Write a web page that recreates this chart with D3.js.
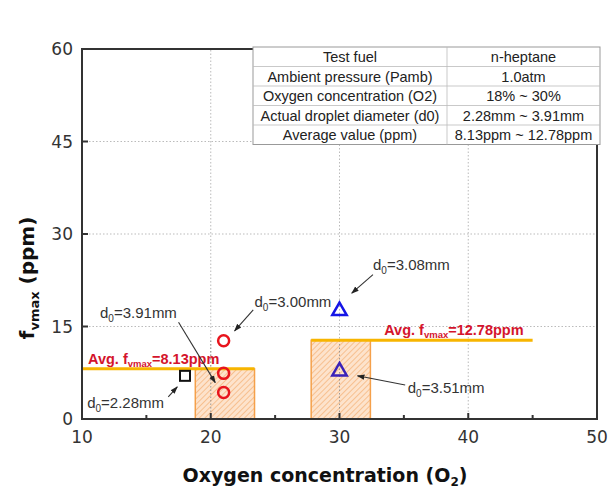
<!DOCTYPE html>
<html>
<head>
<meta charset="utf-8">
<script src="https://cdn.jsdelivr.net/npm/d3@7"></script>
<style>
  body { margin: 0; background: #fff; }
  svg { font-family: "DejaVu Sans", sans-serif; }
</style>
</head>
<body>
<script>
// data
var xTicks = [10, 20, 30, 40, 50];
var xMinorTicks = [15, 25, 35, 45];
var yTicks = [0, 15, 30, 45, 60];

var circleX = [21, 21, 21],
    circleY = [12.7, 7.4, 4.3];
var squareX = [18],
    squareY = [7.0];
var triangleX = [30, 30],
    triangleY = [17.7, 7.9];

// average bands (hatched) and average lines
var bandStart = [18.8, 27.8],
    bandEnd = [23.4, 32.4],
    avgValue = [8.13, 12.78];
var avgLineStart = [10, 27.8],
    avgLineEnd = [23.4, 45];
var avgLabels = ["8.13ppm", "12.78ppm"];

// annotations: label, text anchor (data units), arrow from -> to (data units)
var annoLabels = ["3.91mm", "2.28mm", "3.00mm", "3.08mm", "3.51mm"];
var annoTextX = [11.4, 10.4, 23.4, 32.6, 35.3],
    annoTextY = [17.2, 2.6, 19.0, 25.0, 5.0];
var annoFrom = [[17.5, 15.7], [16.7, 3.6], [23.3, 17.7], [32.6, 23.4], [35.1, 5.5]],
    annoTo = [[20.35, 5.9], [17.4, 5.2], [21.85, 14.3], [30.95, 20.4], [31.4, 7.0]];

// table
var tableLeft = ["Test fuel", "Ambient pressure (Pamb)", "Oxygen concentration (O2)",
    "Actual droplet diameter (d0)", "Average value (ppm)"];
var tableRight = ["n-heptane", "1.0atm", "18% ~ 30%", "2.28mm ~ 3.91mm", "8.13ppm ~ 12.78ppm"];

var width = 611,
    height = 495;
var margin = {left: 82, right: 14, top: 49, bottom: 76};

var svg = d3.select("body").append("svg")
    .attr("width", width)
    .attr("height", height);

var x = d3.scaleLinear().domain([10, 50]).range([margin.left, width - margin.right]);
var y = d3.scaleLinear().domain([0, 60]).range([height - margin.bottom, margin.top]);

var defs = svg.append("defs");
defs.append("marker")
    .attr("id", "arrow")
    .attr("viewBox", "0 0 10 10")
    .attr("refX", 9).attr("refY", 5)
    .attr("markerWidth", 7).attr("markerHeight", 7)
    .attr("orient", "auto")
    .append("path")
    .attr("d", "M0,1.5 L10,5 L0,8.5 z")
    .attr("fill", "#222");

var hatch = defs.append("pattern")
    .attr("id", "hatch")
    .attr("patternUnits", "userSpaceOnUse")
    .attr("width", 4).attr("height", 4)
    .attr("patternTransform", "rotate(45)");
hatch.append("rect").attr("width", 4).attr("height", 4).attr("fill", "#fde3cc");
hatch.append("line")
    .attr("x1", 0).attr("y1", 0).attr("x2", 0).attr("y2", 4)
    .attr("stroke", "#f4a868").attr("stroke-width", 1.2);

//gridlines
svg.selectAll(".gridX")
    .data(xTicks.slice(1, -1))
    .enter().append("line")
    .attr("x1", d => x(d)).attr("x2", d => x(d))
    .attr("y1", y(0)).attr("y2", y(60))
    .attr("stroke", "#aaa").attr("stroke-width", 0.8)
    .attr("stroke-dasharray", "1.5,2");
svg.selectAll(".gridY")
    .data(yTicks.slice(1, -1))
    .enter().append("line")
    .attr("x1", x(10)).attr("x2", x(50))
    .attr("y1", d => y(d)).attr("y2", d => y(d))
    .attr("stroke", "#aaa").attr("stroke-width", 0.8)
    .attr("stroke-dasharray", "1.5,2");

//hatched bands
svg.selectAll(".band")
    .data(avgValue)
    .enter().append("rect")
    .attr("x", (d, i) => x(bandStart[i]))
    .attr("width", (d, i) => x(bandEnd[i]) - x(bandStart[i]))
    .attr("y", d => y(d))
    .attr("height", d => y(0) - y(d))
    .attr("fill", "url(#hatch)")
    .attr("stroke", "#f5a04a").attr("stroke-width", 1.5);

//re-draw the dotted gridline over the bands
svg.selectAll(".gridX2")
    .data([20, 30])
    .enter().append("line")
    .attr("x1", d => x(d)).attr("x2", d => x(d))
    .attr("y1", y(0)).attr("y2", y(13))
    .attr("stroke", "#888").attr("stroke-width", 0.8)
    .attr("stroke-dasharray", "1.5,2");

//average lines
svg.selectAll(".avgLine")
    .data(avgValue)
    .enter().append("line")
    .attr("x1", (d, i) => x(avgLineStart[i]))
    .attr("x2", (d, i) => x(avgLineEnd[i]))
    .attr("y1", d => y(d)).attr("y2", d => y(d))
    .attr("stroke", "#f7b500").attr("stroke-width", 3);

//average labels
var avgLab = svg.selectAll(".avgLab")
    .data(avgValue)
    .enter().append("text")
    .attr("x", (d, i) => i == 0 ? x(10) + 6 : x(avgLineStart[i]) + 73)
    .attr("y", d => y(d) - 5)
    .attr("fill", "#d4142c")
    .attr("font-family", "'Liberation Sans', Arial, sans-serif")
    .attr("font-weight", "bold")
    .attr("font-size", 14.5);
avgLab.append("tspan").text("Avg. f");
avgLab.append("tspan").attr("font-size", 9.5).attr("dy", 3).text("vmax");
avgLab.append("tspan").attr("dy", -3).text((d, i) => "=" + avgLabels[i]);

//frame
svg.append("rect")
    .attr("x", x(10)).attr("y", y(60))
    .attr("width", x(50) - x(10)).attr("height", y(0) - y(60))
    .attr("fill", "none").attr("stroke", "#333").attr("stroke-width", 2);

//ticks inward
svg.selectAll(".xTick")
    .data(xTicks.concat(xMinorTicks))
    .enter().append("line")
    .attr("x1", d => x(d)).attr("x2", d => x(d))
    .attr("y1", y(0)).attr("y2", d => y(0) - (d % 10 == 0 ? 6 : 4))
    .attr("stroke", "#333").attr("stroke-width", 2);
svg.selectAll(".yTick")
    .data(yTicks)
    .enter().append("line")
    .attr("x1", x(10)).attr("x2", x(10) + 6)
    .attr("y1", d => y(d)).attr("y2", d => y(d))
    .attr("stroke", "#333").attr("stroke-width", 2);

//tick labels
svg.selectAll(".xLab")
    .data(xTicks)
    .enter().append("text")
    .attr("x", d => x(d)).attr("y", y(0) + 24)
    .attr("text-anchor", "middle")
    .attr("font-size", 17).attr("fill", "#333")
    .text(d => d);
svg.selectAll(".yLab")
    .data(yTicks)
    .enter().append("text")
    .attr("x", x(10) - 9).attr("y", d => y(d) + 6)
    .attr("text-anchor", "end")
    .attr("font-size", 17).attr("fill", "#333")
    .text(d => d);

//axis titles
var xTitle = svg.append("text")
    .attr("x", 325).attr("y", 482)
    .attr("text-anchor", "middle")
    .attr("font-weight", "bold").attr("font-size", 19).attr("fill", "#111");
xTitle.append("tspan").text("Oxygen concentration (O");
xTitle.append("tspan").attr("font-size", 12).attr("dy", 4).text("2");
xTitle.append("tspan").attr("dy", -4).text(")");

var yTitle = svg.append("text")
    .attr("transform", "translate(34,278) rotate(-90)")
    .attr("text-anchor", "middle")
    .attr("font-weight", "bold").attr("font-size", 20).attr("fill", "#111");
yTitle.append("tspan").text("f");
yTitle.append("tspan").attr("font-size", 13).attr("dy", 5).text("vmax");
yTitle.append("tspan").attr("dy", -5).text(" (ppm)");

//markers
svg.selectAll(".circ")
    .data(circleY)
    .enter().append("circle")
    .attr("cx", (d, i) => x(circleX[i]))
    .attr("cy", d => y(d))
    .attr("r", 5.5)
    .attr("fill", "none").attr("stroke", "#e8141c").attr("stroke-width", 2.5);
svg.selectAll(".sq")
    .data(squareY)
    .enter().append("rect")
    .attr("x", (d, i) => x(squareX[i]) - 5)
    .attr("y", d => y(d) - 5)
    .attr("width", 10).attr("height", 10)
    .attr("fill", "none").attr("stroke", "#111").attr("stroke-width", 2);
var tri = d3.symbol().type(d3.symbolTriangle).size(90);
svg.selectAll(".tri")
    .data(triangleY)
    .enter().append("path")
    .attr("d", tri)
    .attr("transform", (d, i) => "translate(" + x(triangleX[i]) + "," + (y(d) + 1) + ")")
    .attr("fill", "none")
    .attr("stroke", (d, i) => i == 0 ? "#1515e6" : "#3a22b8")
    .attr("stroke-width", 2.5);

//annotations
svg.selectAll(".annoArrow")
    .data(annoLabels)
    .enter().append("line")
    .attr("x1", (d, i) => x(annoFrom[i][0])).attr("y1", (d, i) => y(annoFrom[i][1]))
    .attr("x2", (d, i) => x(annoTo[i][0])).attr("y2", (d, i) => y(annoTo[i][1]))
    .attr("stroke", "#333").attr("stroke-width", 1.1)
    .attr("marker-end", "url(#arrow)");
var anno = svg.selectAll(".anno")
    .data(annoLabels)
    .enter().append("text")
    .attr("x", (d, i) => x(annoTextX[i]))
    .attr("y", (d, i) => y(annoTextY[i]) + 5)
    .attr("font-family", "'Liberation Sans', Arial, sans-serif")
    .attr("font-size", 15).attr("fill", "#333");
anno.append("tspan").text("d");
anno.append("tspan").attr("font-size", 10).attr("dy", 4).text("0");
anno.append("tspan").attr("dy", -4).text(d => "=" + d);

//info table
var tLeft = 253, tTop = 47, colW = [194, 153], rowH = 19.5;
var table = svg.append("g").attr("font-family", "'Liberation Sans', Arial, sans-serif");
table.append("rect")
    .attr("x", tLeft).attr("y", tTop)
    .attr("width", colW[0] + colW[1]).attr("height", rowH * tableLeft.length)
    .attr("fill", "#fff").attr("stroke", "#999").attr("stroke-width", 1);
table.selectAll(".rowLine")
    .data(tableLeft.slice(1))
    .enter().append("line")
    .attr("x1", tLeft).attr("x2", tLeft + colW[0] + colW[1])
    .attr("y1", (d, i) => tTop + rowH * (i + 1)).attr("y2", (d, i) => tTop + rowH * (i + 1))
    .attr("stroke", "#bbb").attr("stroke-width", 0.8);
table.append("line")
    .attr("x1", tLeft + colW[0]).attr("x2", tLeft + colW[0])
    .attr("y1", tTop).attr("y2", tTop + rowH * tableLeft.length)
    .attr("stroke", "#bbb").attr("stroke-width", 0.8);
table.selectAll(".cellL")
    .data(tableLeft)
    .enter().append("text")
    .attr("x", tLeft + colW[0] / 2)
    .attr("y", (d, i) => tTop + rowH * i + 15)
    .attr("text-anchor", "middle")
    .attr("font-size", 14.5).attr("fill", "#222")
    .text(d => d);
table.selectAll(".cellR")
    .data(tableRight)
    .enter().append("text")
    .attr("x", tLeft + colW[0] + colW[1] / 2)
    .attr("y", (d, i) => tTop + rowH * i + 15)
    .attr("text-anchor", "middle")
    .attr("font-size", 14.5).attr("fill", "#222")
    .text(d => d);
</script>
</body>
</html>
